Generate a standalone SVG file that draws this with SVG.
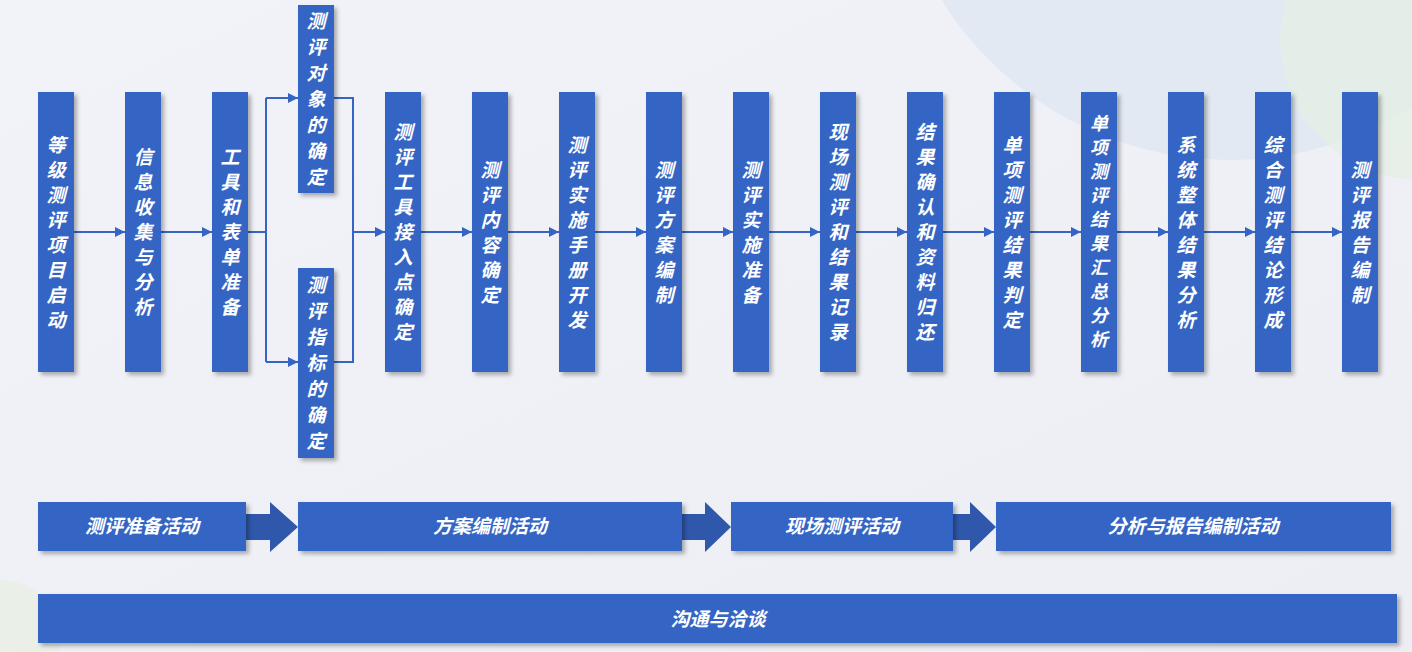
<svg xmlns="http://www.w3.org/2000/svg" width="1412" height="652" viewBox="0 0 1412 652">
<defs>
<linearGradient id="bg" x1="0" y1="0" x2="1" y2="1"><stop offset="0" stop-color="#f2f3f8"/><stop offset="1" stop-color="#eceef4"/></linearGradient>
<filter id="sh" x="-20%" y="-20%" width="150%" height="150%"><feDropShadow dx="3" dy="3" stdDeviation="2" flood-color="#000" flood-opacity="0.3"/></filter>
<marker id="ah" viewBox="0 0 10 10" refX="10" refY="5" markerWidth="10" markerHeight="10" markerUnits="userSpaceOnUse" orient="auto"><path d="M0,0 L10,5 L0,10 z" fill="#3565c4"/></marker>
<style>
.b{fill:#3565c4;filter:url(#sh)}
.t{fill:#fff;font-family:"Noto Sans CJK SC",sans-serif;font-weight:bold;font-style:italic;font-size:19px;text-anchor:middle}
.s{font-size:18px}
.h{fill:#fff;font-family:"Noto Sans CJK SC",sans-serif;font-weight:bold;font-style:italic;font-size:19px;text-anchor:middle}
.c{stroke:#3565c4;stroke-width:2;fill:none}
.ba{fill:#2f58ac}
</style>
</defs>
<rect width="1412" height="652" fill="url(#bg)"/>
<circle cx="1230" cy="-180" r="340" fill="#dde6f2" opacity="0.7"/>
<circle cx="1420" cy="40" r="140" fill="#e4efe2" opacity="0.7"/>
<circle cx="0" cy="640" r="60" fill="#e6efe0" opacity="0.6"/>
<g id="connectors">
<line class="c" x1="74" y1="232" x2="125" y2="232" marker-end="url(#ah)"/>
<line class="c" x1="161" y1="232" x2="212" y2="232" marker-end="url(#ah)"/>
<polyline class="c" points="248,232 266,232"/>
<polyline class="c" points="266,98 266,362"/>
<line class="c" x1="266" y1="98" x2="298" y2="98" marker-end="url(#ah)"/>
<line class="c" x1="266" y1="362" x2="298" y2="362" marker-end="url(#ah)"/>
<polyline class="c" points="334,98 353,98 353,362 334,362"/>
<line class="c" x1="353" y1="232" x2="385" y2="232" marker-end="url(#ah)"/>
<line class="c" x1="421" y1="232" x2="472" y2="232" marker-end="url(#ah)"/>
<line class="c" x1="508" y1="232" x2="559" y2="232" marker-end="url(#ah)"/>
<line class="c" x1="595" y1="232" x2="646" y2="232" marker-end="url(#ah)"/>
<line class="c" x1="682" y1="232" x2="733" y2="232" marker-end="url(#ah)"/>
<line class="c" x1="769" y1="232" x2="820" y2="232" marker-end="url(#ah)"/>
<line class="c" x1="856" y1="232" x2="907" y2="232" marker-end="url(#ah)"/>
<line class="c" x1="943" y1="232" x2="994" y2="232" marker-end="url(#ah)"/>
<line class="c" x1="1030" y1="232" x2="1081" y2="232" marker-end="url(#ah)"/>
<line class="c" x1="1117" y1="232" x2="1168" y2="232" marker-end="url(#ah)"/>
<line class="c" x1="1204" y1="232" x2="1255" y2="232" marker-end="url(#ah)"/>
<line class="c" x1="1291" y1="232" x2="1342" y2="232" marker-end="url(#ah)"/>
<path class="ba" d="M246,514 H270 V502 L298,527 L270,552 V540 H246 Z"/>
<path class="ba" d="M682,514 H705 V502 L731,527 L705,552 V540 H682 Z"/>
<path class="ba" d="M953,514 H970 V502 L996,527 L970,552 V540 H953 Z"/>
</g>
<g id="n1"><rect class="b" x="38" y="92" width="36" height="280"/><text class="t"><tspan x="56" y="152">等</tspan><tspan x="56" y="177">级</tspan><tspan x="56" y="202">测</tspan><tspan x="56" y="227">评</tspan><tspan x="56" y="252">项</tspan><tspan x="56" y="277">目</tspan><tspan x="56" y="302">启</tspan><tspan x="56" y="327">动</tspan></text></g>
<g id="n2"><rect class="b" x="125" y="92" width="36" height="280"/><text class="t"><tspan x="143" y="164">信</tspan><tspan x="143" y="189">息</tspan><tspan x="143" y="214">收</tspan><tspan x="143" y="239">集</tspan><tspan x="143" y="264">与</tspan><tspan x="143" y="289">分</tspan><tspan x="143" y="314">析</tspan></text></g>
<g id="n3"><rect class="b" x="212" y="92" width="36" height="280"/><text class="t"><tspan x="230" y="164">工</tspan><tspan x="230" y="189">具</tspan><tspan x="230" y="214">和</tspan><tspan x="230" y="239">表</tspan><tspan x="230" y="264">单</tspan><tspan x="230" y="289">准</tspan><tspan x="230" y="314">备</tspan></text></g>
<g id="n4"><rect class="b" x="298" y="5" width="36" height="188"/><text class="t"><tspan x="316" y="28">测</tspan><tspan x="316" y="54">评</tspan><tspan x="316" y="80">对</tspan><tspan x="316" y="106">象</tspan><tspan x="316" y="132">的</tspan><tspan x="316" y="158">确</tspan><tspan x="316" y="184">定</tspan></text></g>
<g id="n5"><rect class="b" x="298" y="268" width="36" height="190"/><text class="t"><tspan x="316" y="292">测</tspan><tspan x="316" y="318">评</tspan><tspan x="316" y="344">指</tspan><tspan x="316" y="370">标</tspan><tspan x="316" y="396">的</tspan><tspan x="316" y="422">确</tspan><tspan x="316" y="448">定</tspan></text></g>
<g id="n6"><rect class="b" x="385" y="92" width="36" height="280"/><text class="t"><tspan x="403" y="139">测</tspan><tspan x="403" y="164">评</tspan><tspan x="403" y="189">工</tspan><tspan x="403" y="214">具</tspan><tspan x="403" y="239">接</tspan><tspan x="403" y="264">入</tspan><tspan x="403" y="289">点</tspan><tspan x="403" y="314">确</tspan><tspan x="403" y="339">定</tspan></text></g>
<g id="n7"><rect class="b" x="472" y="92" width="36" height="280"/><text class="t"><tspan x="490" y="177">测</tspan><tspan x="490" y="202">评</tspan><tspan x="490" y="227">内</tspan><tspan x="490" y="252">容</tspan><tspan x="490" y="277">确</tspan><tspan x="490" y="302">定</tspan></text></g>
<g id="n8"><rect class="b" x="559" y="92" width="36" height="280"/><text class="t"><tspan x="577" y="152">测</tspan><tspan x="577" y="177">评</tspan><tspan x="577" y="202">实</tspan><tspan x="577" y="227">施</tspan><tspan x="577" y="252">手</tspan><tspan x="577" y="277">册</tspan><tspan x="577" y="302">开</tspan><tspan x="577" y="327">发</tspan></text></g>
<g id="n9"><rect class="b" x="646" y="92" width="36" height="280"/><text class="t"><tspan x="664" y="177">测</tspan><tspan x="664" y="202">评</tspan><tspan x="664" y="227">方</tspan><tspan x="664" y="252">案</tspan><tspan x="664" y="277">编</tspan><tspan x="664" y="302">制</tspan></text></g>
<g id="n10"><rect class="b" x="733" y="92" width="36" height="280"/><text class="t"><tspan x="751" y="177">测</tspan><tspan x="751" y="202">评</tspan><tspan x="751" y="227">实</tspan><tspan x="751" y="252">施</tspan><tspan x="751" y="277">准</tspan><tspan x="751" y="302">备</tspan></text></g>
<g id="n11"><rect class="b" x="820" y="92" width="36" height="280"/><text class="t"><tspan x="838" y="139">现</tspan><tspan x="838" y="164">场</tspan><tspan x="838" y="189">测</tspan><tspan x="838" y="214">评</tspan><tspan x="838" y="239">和</tspan><tspan x="838" y="264">结</tspan><tspan x="838" y="289">果</tspan><tspan x="838" y="314">记</tspan><tspan x="838" y="339">录</tspan></text></g>
<g id="n12"><rect class="b" x="907" y="92" width="36" height="280"/><text class="t"><tspan x="925" y="139">结</tspan><tspan x="925" y="164">果</tspan><tspan x="925" y="189">确</tspan><tspan x="925" y="214">认</tspan><tspan x="925" y="239">和</tspan><tspan x="925" y="264">资</tspan><tspan x="925" y="289">料</tspan><tspan x="925" y="314">归</tspan><tspan x="925" y="339">还</tspan></text></g>
<g id="n13"><rect class="b" x="994" y="92" width="36" height="280"/><text class="t"><tspan x="1012" y="152">单</tspan><tspan x="1012" y="177">项</tspan><tspan x="1012" y="202">测</tspan><tspan x="1012" y="227">评</tspan><tspan x="1012" y="252">结</tspan><tspan x="1012" y="277">果</tspan><tspan x="1012" y="302">判</tspan><tspan x="1012" y="327">定</tspan></text></g>
<g id="n14"><rect class="b" x="1081" y="92" width="36" height="280"/><text class="t s"><tspan x="1099" y="130">单</tspan><tspan x="1099" y="154">项</tspan><tspan x="1099" y="178">测</tspan><tspan x="1099" y="202">评</tspan><tspan x="1099" y="226">结</tspan><tspan x="1099" y="250">果</tspan><tspan x="1099" y="274">汇</tspan><tspan x="1099" y="298">总</tspan><tspan x="1099" y="322">分</tspan><tspan x="1099" y="346">析</tspan></text></g>
<g id="n15"><rect class="b" x="1168" y="92" width="36" height="280"/><text class="t"><tspan x="1186" y="152">系</tspan><tspan x="1186" y="177">统</tspan><tspan x="1186" y="202">整</tspan><tspan x="1186" y="227">体</tspan><tspan x="1186" y="252">结</tspan><tspan x="1186" y="277">果</tspan><tspan x="1186" y="302">分</tspan><tspan x="1186" y="327">析</tspan></text></g>
<g id="n16"><rect class="b" x="1255" y="92" width="36" height="280"/><text class="t"><tspan x="1273" y="152">综</tspan><tspan x="1273" y="177">合</tspan><tspan x="1273" y="202">测</tspan><tspan x="1273" y="227">评</tspan><tspan x="1273" y="252">结</tspan><tspan x="1273" y="277">论</tspan><tspan x="1273" y="302">形</tspan><tspan x="1273" y="327">成</tspan></text></g>
<g id="n17"><rect class="b" x="1342" y="92" width="36" height="280"/><text class="t"><tspan x="1360" y="177">测</tspan><tspan x="1360" y="202">评</tspan><tspan x="1360" y="227">报</tspan><tspan x="1360" y="252">告</tspan><tspan x="1360" y="277">编</tspan><tspan x="1360" y="302">制</tspan></text></g>
<g id="p1"><rect class="b" x="38" y="502" width="208" height="49"/><text class="h" x="142" y="533">测评准备活动</text></g>
<g id="p2"><rect class="b" x="298" y="502" width="384" height="49"/><text class="h" x="490" y="533">方案编制活动</text></g>
<g id="p3"><rect class="b" x="731" y="502" width="222" height="49"/><text class="h" x="842" y="533">现场测评活动</text></g>
<g id="p4"><rect class="b" x="996" y="502" width="395" height="49"/><text class="h" x="1193" y="533">分析与报告编制活动</text></g>
<g id="p5"><rect class="b" x="38" y="594" width="1359" height="49"/><text class="h" x="718" y="626">沟通与洽谈</text></g>
</svg>
